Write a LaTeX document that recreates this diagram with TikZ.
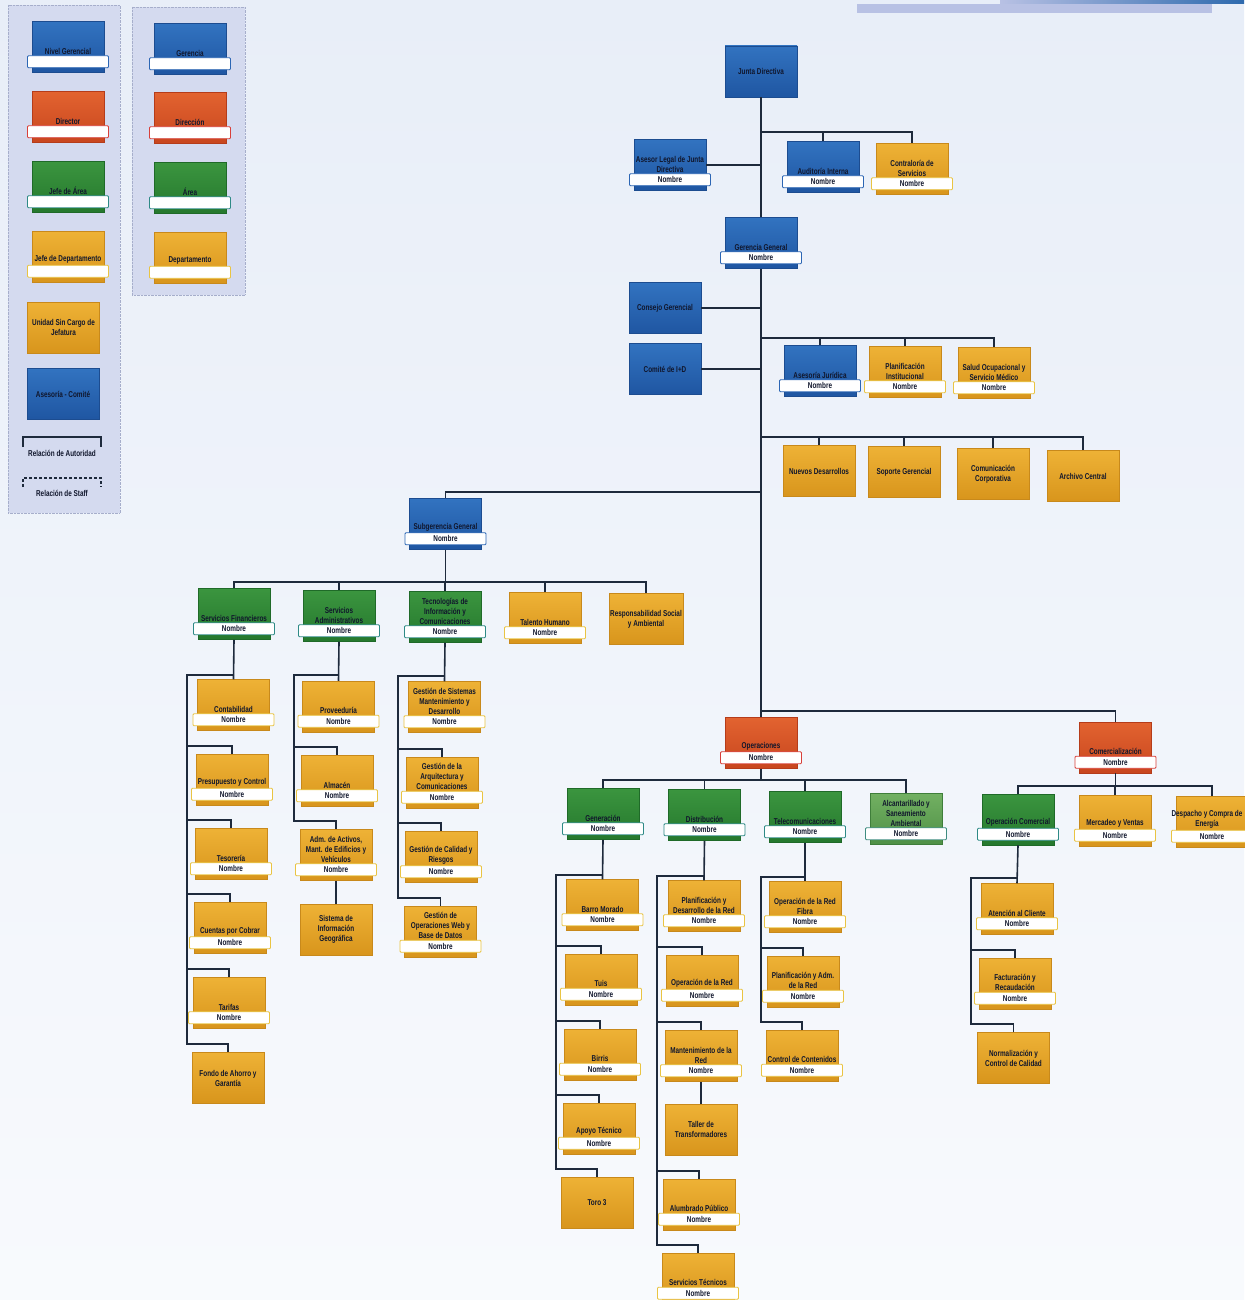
\documentclass[tikz,border=0pt]{standalone}
\usepackage{fontspec}
\newfontfamily\orgfont{Liberation Sans Bold}[FakeStretch=0.75]
\usepackage{xcolor}
\definecolor{BlueTop}{HTML}{3273C0}
\definecolor{BlueBot}{HTML}{1F56A2}
\definecolor{BlueLine}{HTML}{1C4C90}
\definecolor{BlueBar}{HTML}{2C66B4}
\definecolor{RedTop}{HTML}{E26330}
\definecolor{RedBot}{HTML}{C8461E}
\definecolor{RedLine}{HTML}{B53C1A}
\definecolor{RedBar}{HTML}{D8403A}
\definecolor{GreenTop}{HTML}{3B953F}
\definecolor{GreenBot}{HTML}{25782D}
\definecolor{GreenLine}{HTML}{1F6A28}
\definecolor{GreenBar}{HTML}{2E8A86}
\definecolor{SageTop}{HTML}{72B062}
\definecolor{SageBot}{HTML}{4F9046}
\definecolor{SageLine}{HTML}{3F7E3A}
\definecolor{SageBar}{HTML}{3E8C80}
\definecolor{GoldTop}{HTML}{EEB236}
\definecolor{GoldBot}{HTML}{D8951C}
\definecolor{GoldLine}{HTML}{C8891B}
\definecolor{GoldBar}{HTML}{E9C443}
\definecolor{Ink}{HTML}{10162C}
\definecolor{Wire}{HTML}{1E2A3C}
\definecolor{Panel}{HTML}{D4DAEF}
\definecolor{PanelLine}{HTML}{A6AECB}
\definecolor{PaperTop}{HTML}{E8EEF8}
\definecolor{PaperBot}{HTML}{F8FAFD}
\definecolor{Band}{HTML}{B8C1E4}
\definecolor{BandDark}{HTML}{2E6AAE}
\usepackage{tikz}

\begin{document}
\begin{tikzpicture}[x=1pt, y=-1pt,
  utext/.style={font=\orgfont\fontsize{8.5}{10}\selectfont, text=Ink, align=center, inner sep=1pt},
  orgbox/.style={top color=#1Top, bottom color=#1Bot, draw=#1Line, line width=0.5pt, minimum width=72pt, minimum height=51pt, inner sep=1pt},
  namebar/.style={utext, fill=white, draw=#1Bar, line width=0.9pt, rounded corners=1pt, minimum width=81pt, minimum height=12pt, inner sep=0pt},
  wire/.style={draw=Wire, line width=1.6pt}]
\useasboundingbox (0,0) rectangle (1244,1300);
\fill[top color=PaperTop, bottom color=PaperBot] (0,0) rectangle (1244,1300);
\fill[Band] (857,4) rectangle (1212,13);
\fill[left color=Band, right color=BandDark] (1000,0) rectangle (1244,4);

% leyenda
\filldraw[fill=Panel, draw=PanelLine, densely dotted] (8,5) rectangle (120,513);
\filldraw[fill=Panel, draw=PanelLine, densely dotted] (132,7) rectangle (245,295);
\node[orgbox=Blue] (lgA) at (68,47) {};
\node[namebar=Blue, label={[utext]above:{Nivel Gerencial}}] (lgA-n) at ([yshift=11pt]lgA.south) {};
\node[orgbox=Red] (lgB) at (68,117) {};
\node[namebar=Red, label={[utext]above:{Director}}] (lgB-n) at ([yshift=11pt]lgB.south) {};
\node[orgbox=Green] (lgC) at (68,187) {};
\node[namebar=Green, label={[utext]above:{Jefe de Área}}] (lgC-n) at ([yshift=11pt]lgC.south) {};
\node[orgbox=Gold] (lgD) at (68,256.5) {};
\node[namebar=Gold, label={[utext]above:{Jefe de Departamento}}] (lgD-n) at ([yshift=11pt]lgD.south) {};
\node[orgbox=Gold, utext] (lgE) at (63.5,327.5) {Unidad Sin Cargo de\\Jefatura};
\node[orgbox=Blue, utext] (lgF) at (63,394) {Asesoría - Comité};
\node[orgbox=Blue] (rgA) at (190,49) {};
\node[namebar=Blue, label={[utext]above:{Gerencia}}] (rgA-n) at ([yshift=11pt]rgA.south) {};
\node[orgbox=Red] (rgB) at (190,118) {};
\node[namebar=Red, label={[utext]above:{Dirección}}] (rgB-n) at ([yshift=11pt]rgB.south) {};
\node[orgbox=Green] (rgC) at (190,188) {};
\node[namebar=Green, label={[utext]above:{Área}}] (rgC-n) at ([yshift=11pt]rgC.south) {};
\node[orgbox=Gold] (rgD) at (190,257.5) {};
\node[namebar=Gold, label={[utext]above:{Departamento}}] (rgD-n) at ([yshift=11pt]rgD.south) {};
\node[utext] (autoridad) at (62,453) {Relación de Autoridad};
\node[utext] (staff) at (62,493) {Relación de Staff};
\draw[wire, line width=1.2pt] (23,447) -- (23,437) -- (101,437) -- (101,447);
\draw[wire, line width=1.2pt, dash pattern=on 3pt off 2pt] (23,487) -- (23,478) -- (101,478) -- (101,487);

% direccion superior
\node[orgbox=Blue, utext] (junta) at (761,71.5) {Junta Directiva};
\node[orgbox=Blue] (asesor) at (670,165) {};
\node[namebar=Blue, label={[utext]above:{Asesor Legal de Junta\\Directiva}}] (asesor-n) at ([yshift=11pt]asesor.south) {Nombre};
\node[orgbox=Blue] (audit) at (823,167) {};
\node[namebar=Blue, label={[utext]above:{Auditoría Interna}}] (audit-n) at ([yshift=11pt]audit.south) {Nombre};
\node[orgbox=Gold] (contra) at (912,169) {};
\node[namebar=Gold, label={[utext]above:{Contraloría de\\Servicios}}] (contra-n) at ([yshift=11pt]contra.south) {Nombre};
\node[orgbox=Blue] (gerencia) at (761,243) {};
\node[namebar=Blue, label={[utext]above:{Gerencia General}}] (gerencia-n) at ([yshift=11pt]gerencia.south) {Nombre};
\node[orgbox=Blue, utext] (consejo) at (665,308) {Consejo Gerencial};
\node[orgbox=Blue, utext] (comite) at (665,369) {Comité de I+D};
\node[orgbox=Blue] (juridica) at (820,371) {};
\node[namebar=Blue, label={[utext]above:{Asesoría Jurídica}}] (juridica-n) at ([yshift=11pt]juridica.south) {Nombre};
\node[orgbox=Gold] (planif) at (905,372) {};
\node[namebar=Gold, label={[utext]above:{Planificación\\Institucional}}] (planif-n) at ([yshift=11pt]planif.south) {Nombre};
\node[orgbox=Gold] (salud) at (994,373) {};
\node[namebar=Gold, label={[utext]above:{Salud Ocupacional y\\Servicio Médico}}] (salud-n) at ([yshift=11pt]salud.south) {Nombre};
\node[orgbox=Gold, utext] (nuevos) at (819,471) {Nuevos Desarrollos};
\node[orgbox=Gold, utext] (soporte) at (904,472) {Soporte Gerencial};
\node[orgbox=Gold, utext] (comunic) at (993,474) {Comunicación\\Corporativa};
\node[orgbox=Gold, utext] (archivo) at (1083,476) {Archivo Central};

% subgerencia
\node[orgbox=Blue] (subger) at (445.5,524) {};
\node[namebar=Blue, label={[utext]above:{Subgerencia General}}] (subger-n) at ([yshift=11pt]subger.south) {Nombre};
\node[orgbox=Green] (finan) at (234,614) {};
\node[namebar=Green, label={[utext]above:{Servicios Financieros}}] (finan-n) at ([yshift=11pt]finan.south) {Nombre};
\node[orgbox=Green] (admin) at (339,616) {};
\node[namebar=Green, label={[utext]above:{Servicios\\Administrativos}}] (admin-n) at ([yshift=11pt]admin.south) {Nombre};
\node[orgbox=Green] (tic) at (445,617) {};
\node[namebar=Green, label={[utext]above:{Tecnologías de\\Información y\\Comunicaciones}}] (tic-n) at ([yshift=11pt]tic.south) {Nombre};
\node[orgbox=Gold] (talento) at (545,618) {};
\node[namebar=Gold, label={[utext]above:{Talento Humano}}] (talento-n) at ([yshift=11pt]talento.south) {Nombre};
\node[orgbox=Gold, utext] (respons) at (646,619) {Responsabilidad Social\\y Ambiental};

% servicios financieros
\node[orgbox=Gold] (conta) at (233.5,705) {};
\node[namebar=Gold, label={[utext]above:{Contabilidad}}] (conta-n) at ([yshift=11pt]conta.south) {Nombre};
\node[orgbox=Gold] (presup) at (232,779.5) {};
\node[namebar=Gold, label={[utext]above:{Presupuesto y Control}}] (presup-n) at ([yshift=11pt]presup.south) {Nombre};
\node[orgbox=Gold] (tesor) at (231,854) {};
\node[namebar=Gold, label={[utext]above:{Tesorería}}] (tesor-n) at ([yshift=11pt]tesor.south) {Nombre};
\node[orgbox=Gold] (cuentas) at (230,928) {};
\node[namebar=Gold, label={[utext]above:{Cuentas por Cobrar}}] (cuentas-n) at ([yshift=11pt]cuentas.south) {Nombre};
\node[orgbox=Gold] (tarifas) at (229,1003) {};
\node[namebar=Gold, label={[utext]above:{Tarifas}}] (tarifas-n) at ([yshift=11pt]tarifas.south) {Nombre};
\node[orgbox=Gold, utext] (fondo) at (228,1078) {Fondo de Ahorro y\\Garantía};

% servicios administrativos
\node[orgbox=Gold] (prove) at (338.5,706.5) {};
\node[namebar=Gold, label={[utext]above:{Proveeduría}}] (prove-n) at ([yshift=11pt]prove.south) {Nombre};
\node[orgbox=Gold] (almacen) at (337,781) {};
\node[namebar=Gold, label={[utext]above:{Almacén}}] (almacen-n) at ([yshift=11pt]almacen.south) {Nombre};
\node[orgbox=Gold] (activos) at (336,855) {};
\node[namebar=Gold, label={[utext]above:{Adm. de Activos,\\Mant. de Edificios y\\Vehículos}}] (activos-n) at ([yshift=11pt]activos.south) {Nombre};
\node[orgbox=Gold, utext] (sig) at (336,929.5) {Sistema de\\Información\\Geográfica};

% tecnologias de informacion
\node[orgbox=Gold] (gsis) at (444.5,707) {};
\node[namebar=Gold, label={[utext]above:{Gestión de Sistemas\\Mantenimiento y\\Desarrollo}}] (gsis-n) at ([yshift=11pt]gsis.south) {Nombre};
\node[orgbox=Gold] (garq) at (442,782.5) {};
\node[namebar=Gold, label={[utext]above:{Gestión de la\\Arquitectura y\\Comunicaciones}}] (garq-n) at ([yshift=11pt]garq.south) {Nombre};
\node[orgbox=Gold] (gcal) at (441,857) {};
\node[namebar=Gold, label={[utext]above:{Gestión de Calidad y\\Riesgos}}] (gcal-n) at ([yshift=11pt]gcal.south) {Nombre};
\node[orgbox=Gold] (gweb) at (440.5,931.5) {};
\node[namebar=Gold, label={[utext]above:{Gestión de\\Operaciones Web y\\Base de Datos}}] (gweb-n) at ([yshift=11pt]gweb.south) {Nombre};

% operaciones
\node[orgbox=Red] (ops) at (761,743) {};
\node[namebar=Red, label={[utext]above:{Operaciones}}] (ops-n) at ([yshift=11pt]ops.south) {Nombre};
\node[orgbox=Green] (gen) at (603,814) {};
\node[namebar=Green, label={[utext]above:{Generación}}] (gen-n) at ([yshift=11pt]gen.south) {Nombre};
\node[orgbox=Green] (dist) at (704.5,815) {};
\node[namebar=Green, label={[utext]above:{Distribución}}] (dist-n) at ([yshift=11pt]dist.south) {Nombre};
\node[orgbox=Green] (tele) at (805,817) {};
\node[namebar=Green, label={[utext]above:{Telecomunicaciones}}] (tele-n) at ([yshift=11pt]tele.south) {Nombre};
\node[orgbox=Sage] (alcan) at (906,819) {};
\node[namebar=Sage, label={[utext]above:{Alcantarillado y\\Saneamiento\\Ambiental}}] (alcan-n) at ([yshift=11pt]alcan.south) {Nombre};

% generacion
\node[orgbox=Gold] (barro) at (602.5,905) {};
\node[namebar=Gold, label={[utext]above:{Barro Morado}}] (barro-n) at ([yshift=11pt]barro.south) {Nombre};
\node[orgbox=Gold] (tuis) at (601,979.5) {};
\node[namebar=Gold, label={[utext]above:{Tuis}}] (tuis-n) at ([yshift=11pt]tuis.south) {Nombre};
\node[orgbox=Gold] (birris) at (600,1054.5) {};
\node[namebar=Gold, label={[utext]above:{Birris}}] (birris-n) at ([yshift=11pt]birris.south) {Nombre};
\node[orgbox=Gold] (apoyo) at (599,1128.5) {};
\node[namebar=Gold, label={[utext]above:{Apoyo Técnico}}] (apoyo-n) at ([yshift=11pt]apoyo.south) {Nombre};
\node[orgbox=Gold, utext] (toro) at (597,1202.5) {Toro 3};

% distribucion
\node[orgbox=Gold] (pdred) at (704,906) {};
\node[namebar=Gold, label={[utext]above:{Planificación y\\Desarrollo de la Red}}] (pdred-n) at ([yshift=11pt]pdred.south) {Nombre};
\node[orgbox=Gold] (opred) at (702,980.5) {};
\node[namebar=Gold, label={[utext]above:{Operación de la Red}}] (opred-n) at ([yshift=11pt]opred.south) {Nombre};
\node[orgbox=Gold] (mantred) at (701,1056) {};
\node[namebar=Gold, label={[utext]above:{Mantenimiento de la\\Red}}] (mantred-n) at ([yshift=11pt]mantred.south) {Nombre};
\node[orgbox=Gold, utext] (taller) at (701,1129.5) {Taller de\\Transformadores};
\node[orgbox=Gold] (alumb) at (699,1204.5) {};
\node[namebar=Gold, label={[utext]above:{Alumbrado Público}}] (alumb-n) at ([yshift=11pt]alumb.south) {Nombre};
\node[orgbox=Gold] (servtec) at (698,1278.5) {};
\node[namebar=Gold, label={[utext]above:{Servicios Técnicos}}] (servtec-n) at ([yshift=11pt]servtec.south) {Nombre};

% telecomunicaciones
\node[orgbox=Gold] (opfibra) at (805,907) {};
\node[namebar=Gold, label={[utext]above:{Operación de la Red\\Fibra}}] (opfibra-n) at ([yshift=11pt]opfibra.south) {Nombre};
\node[orgbox=Gold] (pladm) at (803,981.5) {};
\node[namebar=Gold, label={[utext]above:{Planificación y Adm.\\de la Red}}] (pladm-n) at ([yshift=11pt]pladm.south) {Nombre};
\node[orgbox=Gold] (control) at (802,1055.5) {};
\node[namebar=Gold, label={[utext]above:{Control de Contenidos}}] (control-n) at ([yshift=11pt]control.south) {Nombre};

% comercializacion
\node[orgbox=Red] (comer) at (1115.5,747.5) {};
\node[namebar=Red, label={[utext]above:{Comercialización}}] (comer-n) at ([yshift=11pt]comer.south) {Nombre};
\node[orgbox=Green] (opcom) at (1018,819.5) {};
\node[namebar=Green, label={[utext]above:{Operación Comercial}}] (opcom-n) at ([yshift=11pt]opcom.south) {Nombre};
\node[orgbox=Gold] (mercadeo) at (1115,820.5) {};
\node[namebar=Gold, label={[utext]above:{Mercadeo y Ventas}}] (mercadeo-n) at ([yshift=11pt]mercadeo.south) {Nombre};
\node[orgbox=Gold] (despacho) at (1212,821.5) {};
\node[namebar=Gold, label={[utext, xshift=-5pt]above:{Despacho y Compra de\\Energía}}] (despacho-n) at ([yshift=11pt]despacho.south) {Nombre};
\node[orgbox=Gold] (atencion) at (1017,909) {};
\node[namebar=Gold, label={[utext]above:{Atención al Cliente}}] (atencion-n) at ([yshift=11pt]atencion.south) {Nombre};
\node[orgbox=Gold] (factur) at (1015,983.5) {};
\node[namebar=Gold, label={[utext]above:{Facturación y\\Recaudación}}] (factur-n) at ([yshift=11pt]factur.south) {Nombre};
\node[orgbox=Gold, utext] (normal) at (1013.5,1058) {Normalización y\\Control de Calidad};

% lineas de autoridad
\coordinate (topbus) at (761,132);
\coordinate (jurbus) at (761,338);
\coordinate (stafbus) at (761,437);
\coordinate (subbus) at (761,492);
\coordinate (combus) at (761,711);
\draw[wire] (junta.south) -- (gerencia.north);
\draw[wire] (topbus) -| (audit.north);
\draw[wire] (topbus) -| (contra.north);
\draw[wire] (asesor.east) -- (asesor.east -| junta.south);
\draw[wire] (gerencia.south) -- (ops.north);
\draw[wire] (consejo.east) -- (consejo.east -| gerencia.south);
\draw[wire] (comite.east) -- (comite.east -| gerencia.south);
\draw[wire] (jurbus) -| (juridica.north);
\draw[wire] (jurbus) -| (planif.north);
\draw[wire] (jurbus) -| (salud.north);
\draw[wire] (stafbus) -| (nuevos.north);
\draw[wire] (stafbus) -| (soporte.north);
\draw[wire] (stafbus) -| (comunic.north);
\draw[wire] (stafbus) -| (archivo.north);
\draw[wire] (subbus) -| (subger.north);
\draw[wire] (combus) -| (comer.north);

\coordinate (sgbus) at (445.5,582);
\draw[wire] (subger.south) -- (sgbus);
\draw[wire] (sgbus) -| (finan.north);
\draw[wire] (sgbus) -| (admin.north);
\draw[wire] (sgbus) -| (tic.north);
\draw[wire] (sgbus) -| (talento.north);
\draw[wire] (sgbus) -| (respons.north);

\coordinate (finrail) at (187,675);
\draw[wire] (finan.south) -- (conta.north);
\draw[wire] (finrail -| finan.south) -- (finrail) |- ([yshift=8pt]fondo.north) -- (fondo.north);
\draw[wire] (finrail) |- ([yshift=8pt]presup.north) -- (presup.north);
\draw[wire] (finrail) |- ([yshift=8pt]tesor.north) -- (tesor.north);
\draw[wire] (finrail) |- ([yshift=8pt]cuentas.north) -- (cuentas.north);
\draw[wire] (finrail) |- ([yshift=8pt]tarifas.north) -- (tarifas.north);

\coordinate (admrail) at (294,675);
\draw[wire] (admin.south) -- (prove.north);
\draw[wire] (admrail -| admin.south) -- (admrail) |- ([yshift=8pt]activos.north) -- (activos.north);
\draw[wire] (admrail) |- ([yshift=8pt]almacen.north) -- (almacen.north);
\draw[wire] (activos.south) -- (sig.north);

\coordinate (ticrail) at (398,676);
\draw[wire] (tic.south) -- (gsis.north);
\draw[wire] (ticrail -| tic.south) -- (ticrail) |- ([yshift=8pt]gweb.north) -- (gweb.north);
\draw[wire] (ticrail) |- ([yshift=8pt]garq.north) -- (garq.north);
\draw[wire] (ticrail) |- ([yshift=8pt]gcal.north) -- (gcal.north);

\coordinate (opbus) at (761,780);
\draw[wire] (ops.south) -- (opbus);
\draw[wire] (opbus) -| (gen.north);
\draw[wire] (opbus) -| (dist.north);
\draw[wire] (opbus) -| (tele.north);
\draw[wire] (opbus) -| (alcan.north);

\coordinate (genrail) at (556,875);
\draw[wire] (gen.south) -- (barro.north);
\draw[wire] (genrail -| gen.south) -- (genrail) |- ([yshift=8pt]toro.north) -- (toro.north);
\draw[wire] (genrail) |- ([yshift=8pt]tuis.north) -- (tuis.north);
\draw[wire] (genrail) |- ([yshift=8pt]birris.north) -- (birris.north);
\draw[wire] (genrail) |- ([yshift=8pt]apoyo.north) -- (apoyo.north);

\coordinate (distrail) at (657,876);
\draw[wire] (dist.south) -- (pdred.north);
\draw[wire] (distrail -| dist.south) -- (distrail) |- ([yshift=8pt]servtec.north) -- (servtec.north);
\draw[wire] (distrail) |- ([yshift=8pt]opred.north) -- (opred.north);
\draw[wire] (distrail) |- ([yshift=8pt]mantred.north) -- (mantred.north);
\draw[wire] (distrail) |- ([yshift=8pt]alumb.north) -- (alumb.north);
\draw[wire] (mantred.south) -- (taller.north);

\coordinate (telerail) at (761,877);
\draw[wire] (tele.south) -- (opfibra.north);
\draw[wire] (telerail -| tele.south) -- (telerail) |- ([yshift=8pt]control.north) -- (control.north);
\draw[wire] (telerail) |- ([yshift=8pt]pladm.north) -- (pladm.north);

\coordinate (cmbus) at (1115.5,786);
\draw[wire] (comer.south) -- (cmbus);
\draw[wire] (cmbus) -| (opcom.north);
\draw[wire] (cmbus) -| (mercadeo.north);
\draw[wire] (cmbus) -| (despacho.north);

\coordinate (ocrail) at (971,878);
\draw[wire] (opcom.south) -- (atencion.north);
\draw[wire] (ocrail -| opcom.south) -- (ocrail) |- ([yshift=8pt]normal.north) -- (normal.north);
\draw[wire] (ocrail) |- ([yshift=8pt]factur.north) -- (factur.north);
\end{tikzpicture}
\end{document}
